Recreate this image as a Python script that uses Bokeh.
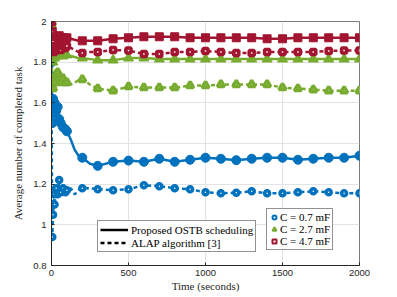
from bokeh.plotting import figure
from bokeh.models import Legend, LegendItem, FixedTicker, CustomJSTickFormatter, Range1d
from bokeh.embed import file_html
from bokeh.resources import INLINE

# time axis (seconds)
t = [1, 5, 10, 15, 20, 30, 40, 50, 60, 75, 90, 100, 125, 150, 175, 200, 250, 300,
     400, 500, 600, 700, 800, 900, 1000, 1100, 1200, 1300, 1400, 1500, 1600, 1700,
     1800, 1900, 2000]

# Proposed OSTB scheduling
prop_c07 = [1.80, 1.50, 1.62, 1.55, 1.60, 1.56, 1.58, 1.52, 1.50, 1.48, 1.47, 1.46, 1.42,
            1.37, 1.34, 1.33, 1.30, 1.29, 1.31, 1.316, 1.31, 1.325, 1.31, 1.32, 1.33,
            1.325, 1.318, 1.325, 1.33, 1.33, 1.32, 1.325, 1.33, 1.33, 1.34]
prop_c27 = [2.00, 1.85, 1.80, 1.84, 1.82, 1.85, 1.83, 1.84, 1.85, 1.83, 1.84, 1.835, 1.83,
            1.825, 1.82, 1.82, 1.815, 1.81, 1.81, 1.82, 1.82, 1.815, 1.815, 1.815, 1.815,
            1.815, 1.815, 1.815, 1.815, 1.815, 1.815, 1.815, 1.815, 1.815, 1.815]
prop_c47 = [2.00, 1.95, 1.90, 1.93, 1.92, 1.91, 1.92, 1.93, 1.91, 1.92, 1.915, 1.92, 1.915,
            1.91, 1.905, 1.905, 1.905, 1.905, 1.915, 1.92, 1.925, 1.925, 1.925, 1.92, 1.92,
            1.92, 1.92, 1.92, 1.915, 1.915, 1.92, 1.92, 1.92, 1.92, 1.92]

# ALAP algorithm [3]
alap_c07 = [1.50, 0.94, 1.05, 1.15, 1.10, 1.18, 1.15, 1.22, 1.16, 1.18, 1.16, 1.17, 1.18,
            1.15, 1.17, 1.18, 1.18, 1.175, 1.17, 1.175, 1.195, 1.19, 1.18, 1.175, 1.16,
            1.155, 1.158, 1.165, 1.155, 1.155, 1.16, 1.165, 1.16, 1.155, 1.155]
alap_c27 = [1.98, 1.68, 1.67, 1.72, 1.70, 1.74, 1.75, 1.72, 1.70, 1.72, 1.70, 1.70, 1.69,
            1.70, 1.71, 1.715, 1.69, 1.67, 1.66, 1.68, 1.675, 1.675, 1.675, 1.685, 1.685,
            1.69, 1.69, 1.69, 1.69, 1.675, 1.67, 1.665, 1.66, 1.66, 1.66]
alap_c47 = [1.95, 1.86, 1.90, 1.85, 1.88, 1.86, 1.88, 1.87, 1.86, 1.88, 1.87, 1.88, 1.87,
            1.86, 1.85, 1.845, 1.85, 1.85, 1.86, 1.857, 1.84, 1.84, 1.85, 1.85, 1.855,
            1.85, 1.845, 1.845, 1.85, 1.85, 1.85, 1.85, 1.855, 1.857, 1.857]

x_ticks = [0, 500, 1000, 1500, 2000]
y_ticks = [0.8, 1.0, 1.2, 1.4, 1.6, 1.8, 2.0]
cap_labels = ["C = 0.7 mF", "C = 2.7 mF", "C = 4.7 mF"]
style_labels = ["Proposed OSTB scheduling", "ALAP algorithm [3]"]

BLUE, GREEN, RED = "#0072BD", "#77AC30", "#A2142F"
AX = "#262626"
SERIF = "Liberation Serif"
SANS = "Liberation Sans"
NAN = float("nan")

p = figure(width=395, height=295, output_backend="svg", toolbar_location=None,
           x_range=Range1d(0, 2000), y_range=Range1d(0.8, 2.0),
           min_border_left=51, min_border_right=36, min_border_top=21, min_border_bottom=30)
p.background_fill_color = "white"
p.border_fill_color = "white"
p.outline_line_color = "#7a7a7a"

for ax in (p.xaxis[0], p.yaxis[0]):
    ax.axis_line_color = AX
    ax.major_tick_line_color = AX
    ax.major_tick_in = 3
    ax.major_tick_out = 0
    ax.minor_tick_line_color = None
    ax.major_label_text_font = SANS
    ax.major_label_text_font_size = "9.5px"
    ax.major_label_text_color = AX
    ax.axis_label_text_font = SERIF
    ax.axis_label_text_font_size = "11px"
    ax.axis_label_text_font_style = "normal"
    ax.axis_label_text_color = AX

p.xaxis.ticker = FixedTicker(ticks=x_ticks)
p.yaxis.ticker = FixedTicker(ticks=y_ticks)
p.yaxis.formatter = CustomJSTickFormatter(code="return tick.toFixed(1).replace(/\\.0$/, '');")
p.xaxis.axis_label = "Time (seconds)"
p.yaxis.axis_label = "Average number of completed task"
p.xaxis.major_label_standoff = 4
p.xaxis.axis_label_standoff = 1
p.yaxis.major_label_standoff = 5
p.yaxis.axis_label_standoff = 6

p.xgrid.grid_line_color = "#e3e3e3"
p.ygrid.grid_line_color = "#e3e3e3"
p.xgrid.ticker = FixedTicker(ticks=x_ticks)
p.ygrid.ticker = FixedTicker(ticks=y_ticks)

LW = 2.5
DASH = "4 3"
mk = [i for i, ti in enumerate(t) if ti <= 100 or ti % 100 == 0]

def draw(vals, color, marker, dashed, size):
    p.line(t, vals, line_color=color, line_width=LW,
           line_dash=DASH if dashed else "solid")
    mx = [t[i] for i in mk]
    my = [vals[i] for i in mk]
    if dashed:
        p.scatter(mx, my, marker=marker, size=size - 4, line_color=color,
                  line_width=3.5, fill_color="white")
    else:
        p.scatter(mx, my, marker=marker, size=size, line_color=color,
                  line_width=1, fill_color=color)

draw(prop_c07, BLUE, "circle", False, 9)
draw(alap_c07, BLUE, "circle", True, 9)
draw(prop_c27, GREEN, "triangle", False, 10)
draw(alap_c27, GREEN, "triangle", True, 11)
draw(prop_c47, RED, "square", False, 8)
draw(alap_c47, RED, "square", True, 9)

# legend-only renderers (NaN data, nothing drawn in the plot)
l_solid = p.line([NAN], [NAN], line_color="black", line_width=2.5)
l_dash = p.line([NAN], [NAN], line_color="black", line_width=2.5, line_dash=DASH)
m_c07 = p.scatter([NAN], [NAN], marker="circle", size=8, line_color=BLUE, line_width=2, fill_color=None)
m_c27 = p.scatter([NAN], [NAN], marker="triangle", size=9, line_color=GREEN, line_width=2, fill_color=None)
m_c47 = p.scatter([NAN], [NAN], marker="square", size=7, line_color=RED, line_width=2, fill_color=None)

def style(leg):
    leg.border_line_color = AX
    leg.border_line_width = 1
    leg.background_fill_color = "white"
    leg.background_fill_alpha = 1
    leg.label_text_font = SERIF
    leg.label_text_font_size = "11px"
    leg.label_text_color = "black"
    leg.spacing = 0
    leg.margin = 0

leg1 = Legend(items=[LegendItem(label=style_labels[0], renderers=[l_solid]),
                     LegendItem(label=style_labels[1], renderers=[l_dash])],
              location=(46, 13))
style(leg1)
leg1.glyph_width = 28
leg1.glyph_height = 13
leg1.label_height = 13
leg1.label_standoff = 3
leg1.padding = 2

leg2 = Legend(items=[LegendItem(label=cap_labels[0], renderers=[m_c07]),
                     LegendItem(label=cap_labels[1], renderers=[m_c27]),
                     LegendItem(label=cap_labels[2], renderers=[m_c47])],
              location=(215, 15))
style(leg2)
leg2.glyph_width = 10
leg2.glyph_height = 12
leg2.label_height = 12
leg2.label_standoff = 1
leg2.padding = 2

p.add_layout(leg1, "center")
p.add_layout(leg2, "center")

open("out.html", "w").write(file_html(p, INLINE))
